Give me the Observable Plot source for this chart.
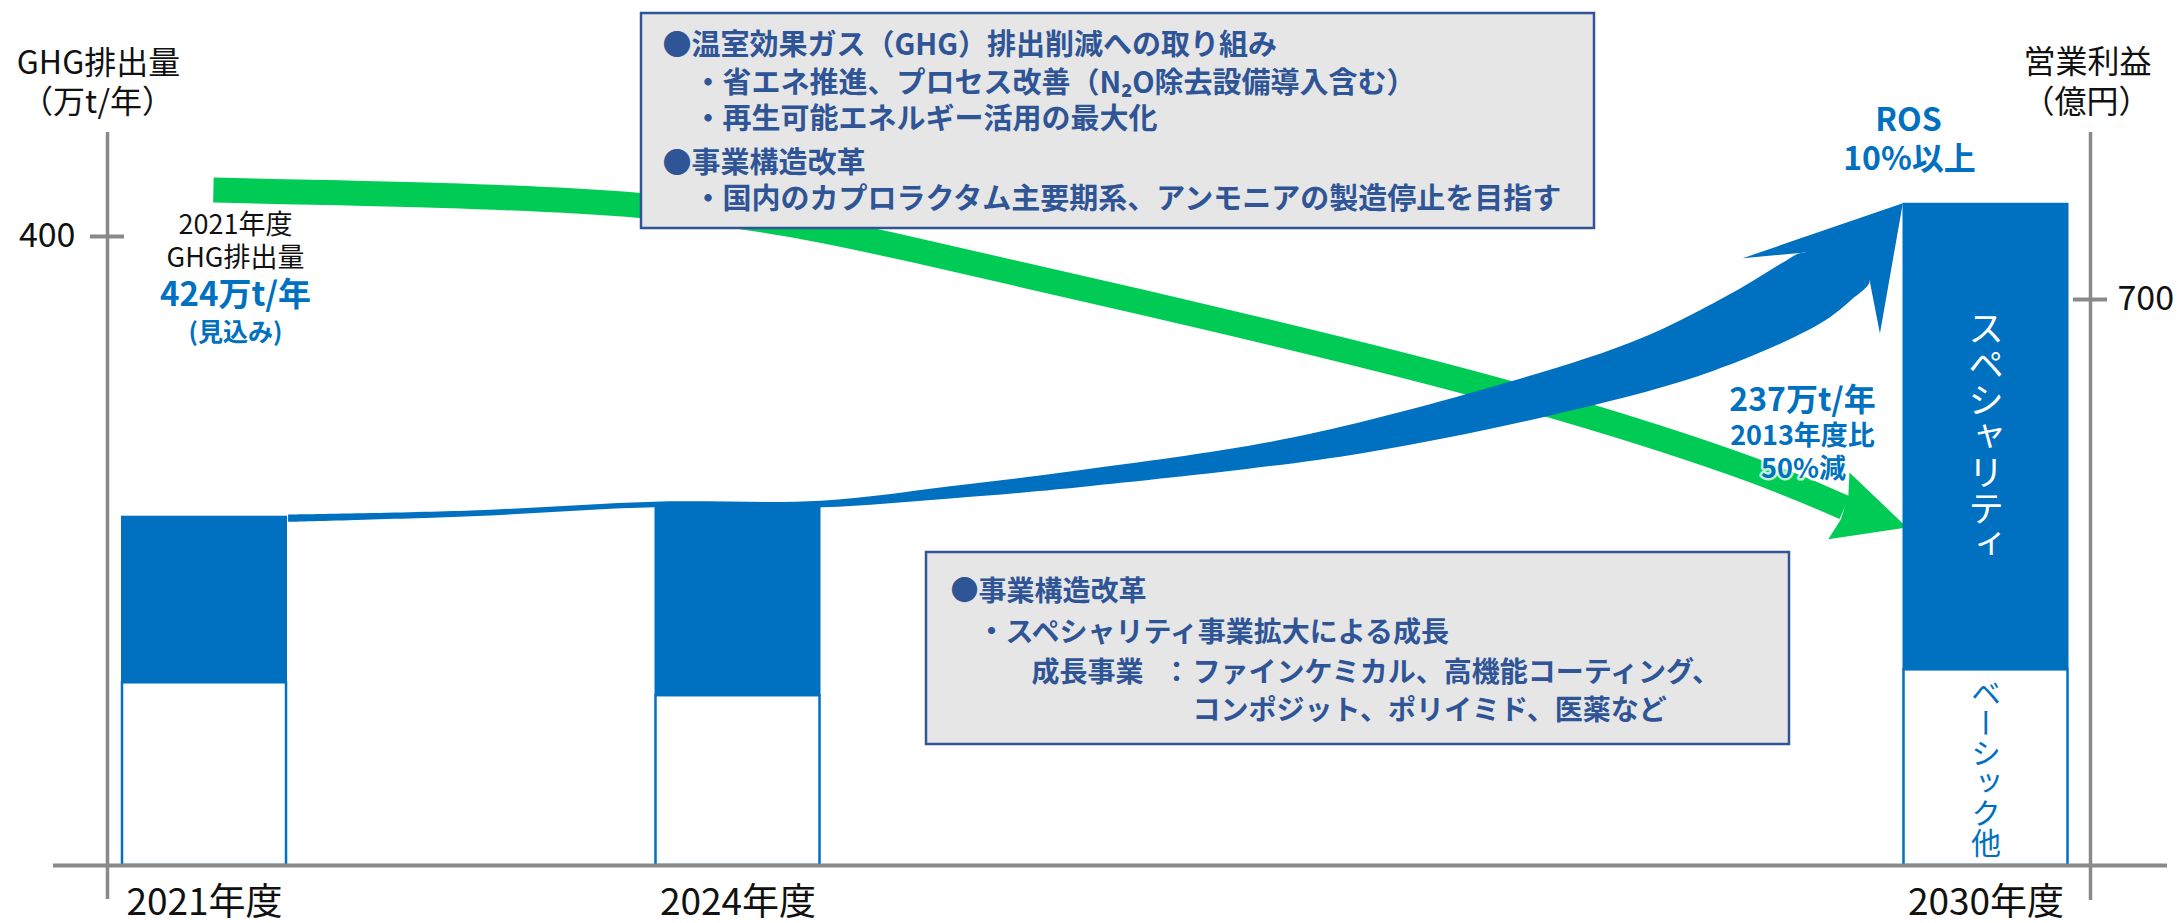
<!DOCTYPE html>
<html><head><meta charset="utf-8">
<script src="https://cdn.jsdelivr.net/npm/d3@7"></script>
<script src="https://cdn.jsdelivr.net/npm/@observablehq/plot@0.6"></script>
<style>
html,body{margin:0;padding:0;background:#fff;}
#chart svg{display:block;}
</style></head>
<body><div id="chart"></div>
<script>
// ---------------- data ----------------
const categories = ["2021年度", "2024年度", "2030年度"];
const fiscalYears = [2021, 2024, 2030];
const segmentNames = ["ベーシック他", "スペシャリティ"];
const basicProfit = [226, 210, 242];      // 億円
const specialtyProfit = [206, 239, 577];  // 億円
const ghgTicks = [400];                   // 万t/年 (left axis)
const profitTicks = [700];                // 億円 (right axis)
const ghgStart = 424;                     // 2021年度見込み
const ghgTarget = 237;                    // 2030年度目標
const ghgTitle = ["GHG排出量", "（万t/年）"];
const profitTitle = ["営業利益", "（億円）"];
// GHG reduction arrow centre line: [fiscal year, 万t/年]
const ghgArrowPath = [[2021.05, 429.5], [2023.45, 419.7], [2024.86, 391.0], [2026.32, 346.5], [2027.71, 300.1], [2028.79, 255.6], [2029.32, 227.6]];
const ghgArrowTip = [2029.62, 215];
// Profit growth arrow outline: [fiscal year, 億円]
const growthUpper = [[2021.47, 434], [2022.50, 439], [2023.53, 450], [2024.40, 451], [2025.02, 469], [2025.65, 489], [2026.66, 529], [2027.68, 596], [2028.35, 653], [2028.82, 714], [2029.02, 745], [2029.13, 758]];
const growthHead = [[2029.13, 758], [2028.83, 751], [2029.60, 819], [2029.49, 658], [2029.44, 724]];
const growthLower = [[2029.44, 724], [2029.35, 699], [2029.20, 670], [2028.69, 612], [2028.01, 563], [2027.00, 510], [2025.65, 468], [2025.02, 454], [2024.40, 443], [2023.53, 443], [2022.50, 432], [2021.47, 425]];
const box1Lines = ["●温室効果ガス（GHG）排出削減への取り組み", "・省エネ推進、プロセス改善（N₂O除去設備導入含む）", "・再生可能エネルギー活用の最大化", "●事業構造改革", "・国内のカプロラクタム主要期系、アンモニアの製造停止を目指す"];
const box2Lines = ["●事業構造改革", "・スペシャリティ事業拡大による成長", "成長事業", "：", "ファインケミカル、高機能コーティング、", "コンポジット、ポリイミド、医薬など"];

// ---------------- layout / style ----------------
const W = 2181, H = 923;
const blue = "#0070C0", green = "#00CC55", gray = "#898989", navy = "#2F5597", boxFill = "#E6E6E6";
const font = "'Noto Sans CJK JP','Noto Sans',sans-serif";
const ghgUnit = 1.9448; // vertical units per 万t/年 so that the two axes line up as drawn
const xOpt = {type: "linear", domain: fiscalYears, range: [204, 737.5, 1985.5]};
const yOpt = {type: "linear", domain: [0, profitTicks[0]], range: [865, 299]};
const X = Plot.scale({x: xOpt});
const Y = Plot.scale({y: yOpt});
const xAt = px => X.invert(px);
const yAt = py => Y.invert(py);
const barHalf = 83;

const bars = categories.map((c, i) => ({cat: c, year: fiscalYears[i], basic: basicProfit[i], spec: specialtyProfit[i]}));

// green arrow head built along the path's end direction (pixel space → data)
const gEnd = ghgArrowPath[ghgArrowPath.length - 1];
const bx = X.apply(gEnd[0]), by = Y.apply(gEnd[1] * ghgUnit);
const tx = X.apply(ghgArrowTip[0]), ty = Y.apply(ghgArrowTip[1] * ghgUnit);
const hl = Math.hypot(tx - bx, ty - by), dxu = (tx - bx) / hl, dyu = (ty - by) / hl;
const nx = -dyu, ny = dxu;
const headLocal = [[0, -12.5], [-6, -35], [hl, 0], [-6, 35], [0, 12.5]];
const greenHead = headLocal.map(([u, v]) => [X.invert(bx + u * dxu + v * nx), Y.invert(by + u * dyu + v * ny) / ghgUnit]);

function label(text, px, py, o = {}) {
  return Plot.text([text], {x: () => xAt(px), y: () => yAt(py), text: d => d, fontSize: 28, fill: "#111", ...o});
}

const marks = [
  // GHG arrow
  Plot.line(ghgArrowPath, {x: d => d[0], y: d => d[1] * ghgUnit, curve: "natural", stroke: green, strokeWidth: 25, strokeLinecap: "butt", strokeLinejoin: "miter"}),
  Plot.line(greenHead, {x: d => d[0], y: d => d[1] * ghgUnit, fill: green, stroke: "none"}),
  // growth arrow
  Plot.line(growthUpper.concat(growthLower), {x: d => d[0], y: d => d[1], curve: "catmull-rom", fill: blue, stroke: "none"}),
  Plot.line(growthHead, {x: d => d[0], y: d => d[1], fill: blue, stroke: "none"}),
  // bars
  Plot.rect(bars, {x1: "year", x2: "year", y1: () => 0, y2: "basic", insetLeft: -barHalf + 1, insetRight: -barHalf + 1, fill: "white", stroke: blue, strokeWidth: 2.5}),
  Plot.rect(bars, {x1: "year", x2: "year", y1: "basic", y2: d => d.basic + d.spec, insetLeft: -barHalf, insetRight: -barHalf, fill: blue}),
  // segment labels on 2030 bar (vertical writing applied after render)
  Plot.text(bars.filter(d => d.year === 2030), {x: "year", y: d => d.basic + d.spec / 2, text: () => segmentNames[1], fill: "white", fontSize: 36, lineAnchor: "bottom"}),
  Plot.text(bars.filter(d => d.year === 2030), {x: "year", y: d => d.basic / 2, text: () => segmentNames[0], fill: blue, fontSize: 30, lineAnchor: "bottom"}),
  // text boxes
  Plot.rect([0], {x1: () => xAt(641), x2: () => xAt(1594), y1: () => yAt(228), y2: () => yAt(13), fill: boxFill, stroke: navy, strokeWidth: 2.5}),
  Plot.rect([0], {x1: () => xAt(926), x2: () => xAt(1789), y1: () => yAt(744), y2: () => yAt(552), fill: boxFill, stroke: navy, strokeWidth: 2.5}),
];
const b1x = [662, 693, 693, 662, 693], b1y = [45, 83, 119, 163, 199];
box1Lines.forEach((t, i) => marks.push(label(t, b1x[i], b1y[i], {textAnchor: "start", fill: navy, fontWeight: "bold", fontSize: 29})));
const b2x = [950, 977, 1031, 1162, 1192, 1192], b2y = [592, 633, 673, 673, 673, 711];
box2Lines.forEach((t, i) => marks.push(label(t, b2x[i], b2y[i], {textAnchor: "start", fill: navy, fontWeight: "bold", fontSize: 28})));

marks.push(
  // 2021 annotation
  label("2021年度", 235, 225, {fontSize: 27}),
  label("GHG排出量", 235, 258, {fontSize: 27}),
  label(`${ghgStart}万t/年`, 235, 295, {fontSize: 33, fontWeight: "bold", fill: blue}),
  label("(見込み)", 235, 332, {fontSize: 25, fontWeight: "bold", fill: blue}),
  // 2030 annotations
  label("ROS", 1908, 120, {fontSize: 32, fontWeight: "bold", fill: blue}),
  label("10%以上", 1909, 159, {fontSize: 32, fontWeight: "bold", fill: blue}),
  label(`${ghgTarget}万t/年`, 1802, 400, {fontSize: 32, fontWeight: "bold", fill: blue}),
  label("2013年度比", 1802, 436, {fontSize: 27, fontWeight: "bold", fill: blue}),
  label("50%減", 1803, 469, {fontSize: 27, fontWeight: "bold", fill: blue, stroke: "white", strokeWidth: 5, strokeOpacity: 0.75}),
  // axis titles
  label(ghgTitle[0], 98, 63, {fontSize: 32}),
  label(ghgTitle[1], 97, 102, {fontSize: 32}),
  label(profitTitle[0], 2087, 62, {fontSize: 32}),
  label(profitTitle[1], 2086, 102, {fontSize: 32}),
  // axes
  Plot.ruleX([0], {x: () => xAt(107), y1: () => yAt(132), y2: () => yAt(899), stroke: gray, strokeWidth: 3.5}),
  Plot.ruleX([0], {x: () => xAt(2090), y1: () => yAt(132), y2: () => yAt(900), stroke: gray, strokeWidth: 3.5}),
  Plot.ruleY([0], {y: 0, x1: () => xAt(53), x2: () => xAt(2167), stroke: gray, strokeWidth: 4}),
  Plot.ruleY(ghgTicks, {y: d => d * ghgUnit, x1: () => xAt(90), x2: () => xAt(124), stroke: gray, strokeWidth: 4}),
  Plot.ruleY(profitTicks, {y: d => d, x1: () => xAt(2073), x2: () => xAt(2107), stroke: gray, strokeWidth: 4}),
  Plot.text(ghgTicks, {y: d => d * ghgUnit, x: () => xAt(75), text: d => String(d), textAnchor: "end", fontSize: 34, fill: "#111"}),
  Plot.text(profitTicks, {y: d => d, x: () => xAt(2117), text: d => String(d), textAnchor: "start", fontSize: 34, fill: "#111"}),
  Plot.text(bars, {x: "year", y: () => 0, dy: 38, text: "cat", fontSize: 37, fill: "#111"})
);

const chart = Plot.plot({
  width: W, height: H,
  marginLeft: 107, marginRight: 91, marginTop: 132, marginBottom: 58,
  x: {...xOpt, axis: null},
  y: {...yOpt, axis: null},
  style: {fontFamily: font, background: "white", overflow: "visible"},
  marks
});
d3.select(chart).selectAll("text")
  .filter(function () { return segmentNames.includes(this.textContent); })
  .style("writing-mode", "vertical-rl")
  .style("text-orientation", "mixed");
document.getElementById("chart").append(chart);
</script>
</body></html>
